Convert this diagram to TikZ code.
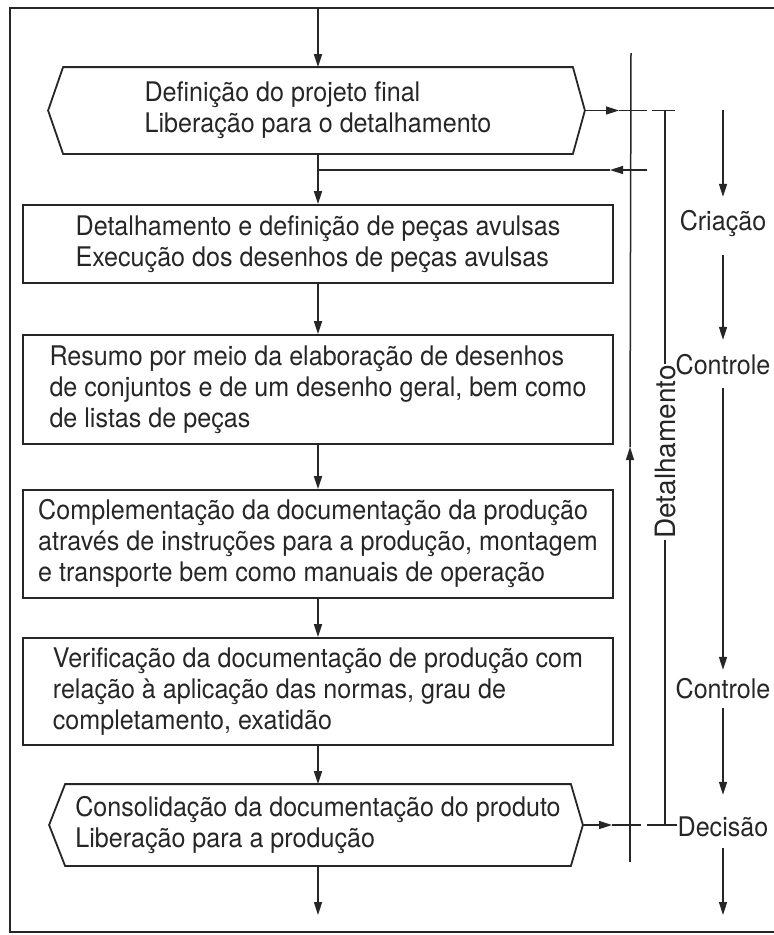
\documentclass[tikz,border=0pt]{standalone}
\usepackage{fontspec}
\setmainfont[FakeStretch=0.93]{TeX Gyre Heros}
\newfontfamily\detfont{TeX Gyre Heros}
\usetikzlibrary{arrows.meta,calc}
\definecolor{ink}{gray}{0.15}
\begin{document}
\begin{tikzpicture}[x=1pt,y=-1pt,
  every node/.style={text=ink},
  txt/.style={font=\fontsize{27}{31}\selectfont},
  box/.style={txt, draw=ink, line width=1.8pt, inner sep=0pt, align=left},
  hexbox/.style={box, draw=none},
  boxline/.style={draw=ink, line width=1.8pt, line join=miter},
  flow/.style={draw=ink, line width=1.5pt},
  arr/.style={flow, -{Triangle[length=13pt,width=8pt]}},
  lbl/.style={txt, inner sep=0pt, text height=20pt, text depth=6pt, anchor=base},
  frame/.style={draw=ink, line width=2pt}]
\useasboundingbox (0,0) rectangle (774,935);
\draw[frame] (774,8) -- (10,8) -- (10,932) -- (774,932);

% main column
\node[hexbox, minimum width=508pt, minimum height=85pt] (b1) at (318,110.5)
  {Definição do projeto final\\Liberação para o detalhamento};
\draw[boxline] (b1.north west) -- (b1.north east) -- ($(b1.east)+(12,0)$)
  -- (b1.south east) -- (b1.south west) -- ($(b1.west)+(-15,0)$) -- cycle;
\node[box, minimum width=590pt, minimum height=78pt] (b2) at (318,244)
  {Detalhamento e definição de peças avulsas\\Execução dos desenhos de peças avulsas};
\node[box, minimum width=590pt, minimum height=109pt] (b3) at (318,389.5)
  {Resumo por meio da elaboração de desenhos\\de conjuntos e de um desenho geral, bem como\\de listas de peças};
\node[box, minimum width=590pt, minimum height=108pt] (b4) at (318,544)
  {Complementação da documentação da produção\\através de instruções para a produção, montagem\\e transporte bem como manuais de operação};
\node[box, minimum width=590pt, minimum height=107pt] (b5) at (318,691.5)
  {Verificação da documentação de produção com\\relação à aplicação das normas, grau de\\completamento, exatidão};
\node[hexbox, minimum width=504pt, minimum height=80pt] (b7) at (318,825)
  {Consolidação da documentação do produto\\Liberação para a produção};
\draw[boxline] (b7.north west) -- (b7.north east) -- ($(b7.east)+(12,0)$)
  -- (b7.south east) -- (b7.south west) -- ($(b7.west)+(-16,0)$) -- cycle;

\coordinate (top) at (318,8);
\coordinate (bot) at (318,915);
\draw[arr] (top) -- (b1.north);
\draw[arr] (b1.south) -- (b2.north);
\draw[arr] (b2.south) -- (b3.north);
\draw[arr] (b3.south) -- (b4.north);
\draw[arr] (b4.south) -- (b5.north);
\draw[arr] (b5.south) -- (b7.north);
\draw[arr] (b7.south) -- (bot);

% return line into main column
\coordinate (j1) at (318,170);
\coordinate (r0) at (647,170);
\coordinate (r1) at (610,170);
\draw[arr] (r0) -- (r1);
\draw[flow] (r1) -- (j1);

% output of first box
\coordinate (b1tip) at ($(b1.east)+(12,0)$);
\coordinate (o1) at (619,110.5);
\coordinate (o2) at (647,110.5);
\coordinate (o3) at (652,110.5);
\coordinate (o4) at (675,110.5);
\draw[arr] (b1tip) -- (o1);
\draw[flow] (o1) -- (o2);
\draw[flow] (o3) -- (o4);

% line A (upward)
\coordinate (lat) at (631,53);
\coordinate (lab) at (630,862);
\coordinate (lam) at (630,447);
\draw[arr] (lab) -- (lam);
\draw[flow] (lam) -- (lat);

% line B with Detalhamento
\node[font=\detfont\fontsize{28}{31}\selectfont, rotate=90, inner sep=1pt] (det) at (665,452) {Detalhamento};
\coordinate (lbt) at (665,110.5);
\coordinate (lbb) at (665,825);
\draw[flow] (lbt) -- (det.east);
\draw[flow] (det.west) -- (lbb);

% right column
\node[lbl] (cr) at (723,230) {Criação};
\node[lbl] (co1) at (723,374) {Controle};
\node[lbl] (co2) at (723,698) {Controle};
\node[lbl] (de) at (723,836) {Decisão};
\coordinate (rc0) at (723,110);
\coordinate (rc9) at (723,915);
\draw[arr, shorten >=13pt] (rc0) -- (cr.north);
\draw[arr, shorten <=19pt, shorten >=14pt] (cr.south) -- (co1.north);
\draw[arr, shorten <=8pt, shorten >=8pt] (co1.south) -- (co2.north);
\draw[arr, shorten <=4pt, shorten >=21pt] (co2.south) -- (de.north);
\draw[arr, shorten <=6pt] (de.south) -- (rc9);

% output of last box
\coordinate (b7tip) at ($(b7.east)+(12,0)$);
\coordinate (p1) at (612,825);
\coordinate (p2) at (641,825);
\coordinate (p3) at (647,825);
\draw[arr] (b7tip) -- (p1);
\draw[flow] (p1) -- (p2);
\draw[flow] (p3) -- (de.west |- p3);
\end{tikzpicture}
\end{document}
